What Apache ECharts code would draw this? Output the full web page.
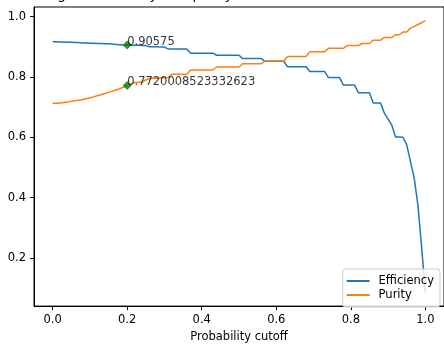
<!DOCTYPE html>
<html>
<head>
<meta charset="utf-8">
<script src="https://cdn.jsdelivr.net/npm/echarts@6/dist/echarts.min.js"></script>
<style>
  html, body { margin: 0; padding: 0; background: #fff; }
  #chart { width: 444px; height: 348px; }
</style>
</head>
<body>
<div id="chart"></div>
<script>
// probability cutoffs (x)
var cutoffs = [
  0.00, 0.01, 0.02, 0.03, 0.04, 0.05, 0.06, 0.07, 0.08, 0.09,
  0.10, 0.11, 0.12, 0.13, 0.14, 0.15, 0.16, 0.17, 0.18, 0.19,
  0.20, 0.21, 0.22, 0.23, 0.24, 0.25, 0.26, 0.27, 0.28, 0.29,
  0.30, 0.31, 0.32, 0.33, 0.34, 0.35, 0.36, 0.37, 0.38, 0.39,
  0.40, 0.41, 0.42, 0.43, 0.44, 0.45, 0.46, 0.47, 0.48, 0.49,
  0.50, 0.51, 0.52, 0.53, 0.54, 0.55, 0.56, 0.57, 0.58, 0.59,
  0.60, 0.61, 0.62, 0.63, 0.64, 0.65, 0.66, 0.67, 0.68, 0.69,
  0.70, 0.71, 0.72, 0.73, 0.74, 0.75, 0.76, 0.77, 0.78, 0.79,
  0.80, 0.81, 0.82, 0.83, 0.84, 0.85, 0.86, 0.87, 0.88, 0.89,
  0.90, 0.91, 0.92, 0.93, 0.94, 0.95, 0.96, 0.97, 0.98, 0.99,
  1.00
];

var efficiency = [
  0.917, 0.917, 0.916, 0.916, 0.915, 0.915, 0.914, 0.914, 0.913, 0.913,
  0.912, 0.912, 0.911, 0.911, 0.910, 0.910, 0.909, 0.908, 0.907, 0.906,
  0.90575, 0.905, 0.905, 0.905, 0.904, 0.904, 0.900, 0.900, 0.900, 0.899,
  0.899, 0.893, 0.893, 0.893, 0.893, 0.893, 0.893, 0.879, 0.879, 0.879,
  0.879, 0.879, 0.879, 0.879, 0.872, 0.872, 0.872, 0.872, 0.872, 0.872,
  0.872, 0.861, 0.861, 0.861, 0.861, 0.861, 0.861, 0.852, 0.852, 0.852,
  0.852, 0.852, 0.852, 0.834, 0.834, 0.834, 0.834, 0.834, 0.834, 0.818,
  0.818, 0.818, 0.818, 0.818, 0.798, 0.798, 0.798, 0.798, 0.773, 0.773,
  0.773, 0.773, 0.748, 0.748, 0.748, 0.748, 0.714, 0.714, 0.714, 0.680,
  0.660, 0.640, 0.601, 0.601, 0.600, 0.575, 0.520, 0.465, 0.375, 0.235,
  0.085
];

var purity = [
  0.713, 0.713, 0.714, 0.715, 0.717, 0.719, 0.721, 0.723, 0.725, 0.728,
  0.731, 0.734, 0.738, 0.741, 0.745, 0.749, 0.753, 0.757, 0.761, 0.766,
  0.7720008523332623, 0.776, 0.782, 0.782, 0.784, 0.790, 0.795, 0.796, 0.796, 0.797,
  0.797, 0.798, 0.809, 0.809, 0.809, 0.809, 0.809, 0.823, 0.823, 0.823,
  0.823, 0.823, 0.823, 0.823, 0.833, 0.833, 0.833, 0.833, 0.833, 0.833,
  0.833, 0.844, 0.844, 0.844, 0.844, 0.844, 0.844, 0.853, 0.853, 0.853,
  0.853, 0.853, 0.853, 0.868, 0.868, 0.868, 0.868, 0.868, 0.868, 0.884,
  0.884, 0.884, 0.884, 0.884, 0.895, 0.895, 0.895, 0.895, 0.895, 0.904,
  0.904, 0.904, 0.904, 0.911, 0.911, 0.911, 0.922, 0.922, 0.922, 0.931,
  0.931, 0.931, 0.940, 0.940, 0.949, 0.949, 0.962, 0.968, 0.974, 0.980,
  0.987
];

// highlighted points at the chosen cutoff
var markX = [0.2, 0.2];
var markY = [0.90575, 0.7720008523332623];

var xTicks = [0.0, 0.2, 0.4, 0.6, 0.8, 1.0];
var yTicks = [0.2, 0.4, 0.6, 0.8, 1.0];

// title sits above the crop, only its descenders show
var titleText = "Signal efficiency and purity vs. classifier score threshold";

var FONT = "DejaVu Sans";

function pairs(xs, ys) {
  return xs.map(function (x, i) { return [x, ys[i]]; });
}

var chart = echarts.init(document.getElementById("chart"), null, { renderer: "canvas" });

var axisCommon = {
  splitLine: { show: false },
  axisLine: { show: true, onZero: false, lineStyle: { color: "#000", width: 1 } },
  axisTick: { show: true, inside: false, length: 4, lineStyle: { color: "#000", width: 1 } },
  axisLabel: {
    margin: 8, fontFamily: FONT, fontSize: 11.5, color: "#000",
    formatter: function (v) { return v.toFixed(1); }
  }
};

var option = {
  animation: false,
  backgroundColor: "#fff",
  textStyle: { fontFamily: FONT },
  graphic: [{
    type: "text",
    x: 239,
    y: 2,
    silent: true,
    style: {
      text: titleText,
      font: "13.8px " + FONT,
      fill: "#000",
      align: "center",
      verticalAlign: "bottom"
    }
  }],
  grid: {
    left: 34, right: 0, top: 7, bottom: 35,
    show: true, borderColor: "#000", borderWidth: 1, backgroundColor: "transparent"
  },
  legend: {
    orient: "vertical",
    right: 4,
    bottom: 41,
    icon: "rect",
    itemWidth: 23,
    itemHeight: 2,
    itemGap: 2,
    padding: [6, 6, 6, 4],
    backgroundColor: "rgba(255,255,255,0.8)",
    borderColor: "#cccccc",
    borderWidth: 1,
    borderRadius: 3,
    textStyle: { fontFamily: FONT, fontSize: 11.5, color: "#000", padding: [0, 0, 0, 4] },
    data: ["Efficiency", "Purity"]
  },
  xAxis: {
    type: "value",
    min: -0.05,
    max: 1.05,
    name: "Probability cutoff",
    nameLocation: "middle",
    nameGap: 22,
    nameTextStyle: { fontFamily: FONT, fontSize: 11.5, color: "#000" },
    splitLine: axisCommon.splitLine,
    axisLine: axisCommon.axisLine,
    axisTick: Object.assign({ customValues: xTicks }, axisCommon.axisTick),
    axisLabel: Object.assign({ customValues: xTicks }, axisCommon.axisLabel)
  },
  yAxis: {
    type: "value",
    min: 0.0399,
    max: 1.0321,
    splitLine: axisCommon.splitLine,
    axisLine: axisCommon.axisLine,
    axisTick: Object.assign({ customValues: yTicks }, axisCommon.axisTick),
    axisLabel: Object.assign({ customValues: yTicks }, axisCommon.axisLabel)
  },
  series: [
    {
      name: "Efficiency",
      type: "line",
      data: pairs(cutoffs, efficiency),
      symbol: "none",
      color: "#1f77b4",
      lineStyle: { width: 1.5, color: "#1f77b4" },
      z: 2
    },
    {
      name: "Purity",
      type: "line",
      data: pairs(cutoffs, purity),
      symbol: "none",
      color: "#ff7f0e",
      lineStyle: { width: 1.5, color: "#ff7f0e" },
      z: 3
    },
    {
      name: "cutoff",
      type: "scatter",
      data: pairs(markX, markY),
      symbol: "diamond",
      symbolSize: 9,
      itemStyle: { color: "#008000" },
      z: 4,
      label: {
        show: true,
        position: [4.5, 7],
        align: "left",
        verticalAlign: "bottom",
        fontFamily: FONT,
        fontSize: 11.5,
        color: "#000",
        formatter: function (p) { return String(p.value[1]); }
      }
    }
  ]
};

chart.setOption(option);
</script>
</body>
</html>
